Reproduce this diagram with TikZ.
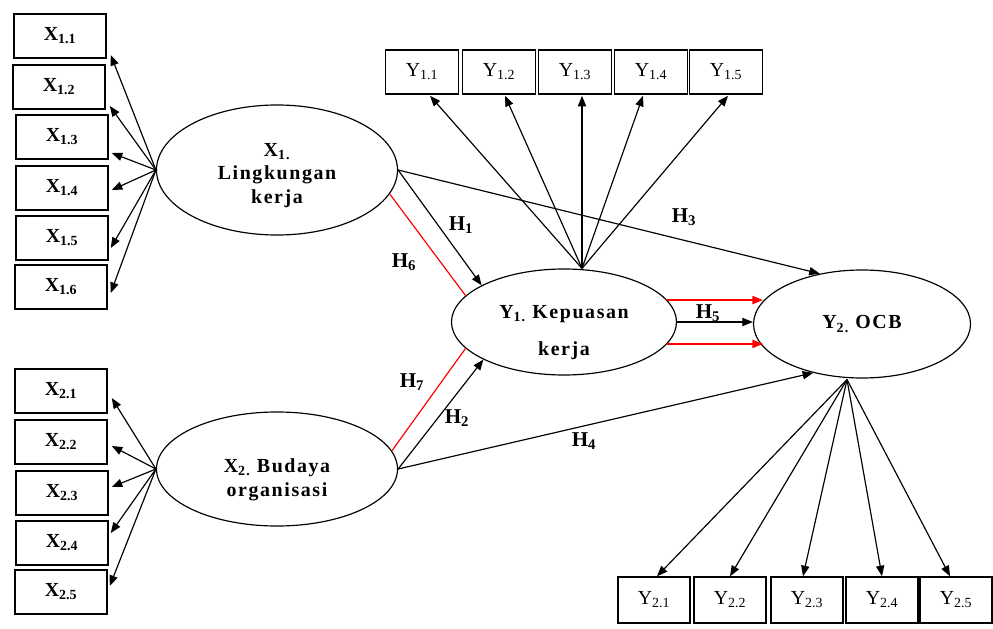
\documentclass[tikz,border=0pt]{standalone}
\usepackage{fontspec}
\setmainfont{Liberation Serif}
\newfontfamily\spacedserif[LetterSpace=8]{Liberation Serif}
\usetikzlibrary{calc,shapes.geometric,arrows.meta}

\tikzset{
	indbox/.style={draw, line width=1.3pt, minimum width=2.76cm, minimum height=1.32cm, inner sep=0pt, font=\fontsize{17}{20}\selectfont\bfseries},
	topbox/.style={draw, line width=1.3pt, minimum width=2.19cm, minimum height=1.32cm, inner sep=0pt, font=\fontsize{17}{20}\selectfont},
	botbox/.style={draw, line width=1.3pt, minimum width=2.16cm, minimum height=1.38cm, inner sep=0pt, font=\fontsize{17}{20}\selectfont},
	latent/.style={draw, ellipse, line width=1pt, inner sep=0pt, align=center, font=\fontsize{17}{20}\spacedserif\bfseries},
	arr/.style={line width=1pt, -{Triangle[length=9pt,width=7pt]}},
	redline/.style={line width=1pt, red},
	redarr/.style={line width=1.2pt, red, -{Triangle[length=9pt,width=7pt]}},
	hlab/.style={font=\fontsize{18}{20}\selectfont\bfseries}
}

\begin{document}
\begin{tikzpicture}[x=0.03cm, y=-0.03cm]
		%%%%% START %%%%%
		\useasboundingbox (0, 0) rectangle (993, 629);
		
		% latent variables
		\node[latent, minimum width=7.23cm, minimum height=3.9cm] (x1) at (277, 170) {\rule{0pt}{20pt}X\textsubscript{1.}\\Lingkungan\\kerja};
		\node[latent, minimum width=7.23cm, minimum height=3.42cm] (x2) at (277, 469) {\rule{0pt}{30pt}X\textsubscript{2.} Budaya\\organisasi};
		\node[latent, minimum width=6.75cm, minimum height=3.18cm, font=\fontsize{17}{31}\spacedserif\bfseries] (y1) at (564, 322) {\rule{0pt}{29pt}Y\textsubscript{1.} Kepuasan\\kerja};
		\node[latent, minimum width=6.51cm, minimum height=3.24cm] (y2) at (862, 324) {Y\textsubscript{2.} OCB};
		
		% indicators of X1
		\node[indbox] (x11) at (60, 36) {X\textsubscript{1.1}};
		\node[indbox] (x12) at (59, 87) {X\textsubscript{1.2}};
		\node[indbox] (x13) at (62, 137) {X\textsubscript{1.3}};
		\node[indbox] (x14) at (62, 188) {X\textsubscript{1.4}};
		\node[indbox] (x15) at (62, 238) {X\textsubscript{1.5}};
		\node[indbox] (x16) at (61, 287) {X\textsubscript{1.6}};
		
		% indicators of X2
		\node[indbox] (x21) at (61, 391) {X\textsubscript{2.1}};
		\node[indbox] (x22) at (61, 442) {X\textsubscript{2.2}};
		\node[indbox] (x23) at (62, 493) {X\textsubscript{2.3}};
		\node[indbox] (x24) at (62, 543) {X\textsubscript{2.4}};
		\node[indbox] (x25) at (61, 592) {X\textsubscript{2.5}};
		
		% indicators of Y1
		\node[topbox] (y11) at (422, 72) {Y\textsubscript{1.1}};
		\node[topbox] (y12) at (499, 72) {Y\textsubscript{1.2}};
		\node[topbox] (y13) at (575, 72) {Y\textsubscript{1.3}};
		\node[topbox] (y14) at (651, 72) {Y\textsubscript{1.4}};
		\node[topbox] (y15) at (726, 72) {Y\textsubscript{1.5}};
		
		% indicators of Y2
		\node[botbox] (y21) at (654, 600) {Y\textsubscript{2.1}};
		\node[botbox] (y22) at (730, 600) {Y\textsubscript{2.2}};
		\node[botbox] (y23) at (807, 600) {Y\textsubscript{2.3}};
		\node[botbox] (y24) at (882, 600) {Y\textsubscript{2.4}};
		\node[botbox] (y25) at (956, 600) {Y\textsubscript{2.5}};
		
		\coordinate (y1top) at ($(y1.north)+(18, 0)$);
		\coordinate (y2bot) at ($(y2.south)+(-15, 1)$);
		
		\draw[arr] (x1.west) -- ($(x11.east)+(4, 19)$);
		\draw[arr] (x1.west) -- ($(x12.east)+(4, 19)$);
		\draw[arr] (x1.west) -- ($(x13.east)+(3, 16)$);
		\draw[arr] (x1.west) -- ($(x14.east)+(3, 2)$);
		\draw[arr] (x1.west) -- ($(x15.east)+(2, 10)$);
		\draw[arr] (x1.west) -- ($(x16.east)+(3, 6)$);
		
		\draw[arr] (x2.west) -- ($(x21.east)+(4, 7)$);
		\draw[arr] (x2.west) -- ($(x22.east)+(4, 4)$);
		\draw[arr] (x2.west) -- ($(x23.east)+(3, -6)$);
		\draw[arr] (x2.west) -- ($(x24.east)+(2, -10)$);
		\draw[arr] (x2.west) -- ($(x25.east)+(2, -6)$);
		
		\draw[arr] (y1top) -- ($(y11.south)+(8, 1)$);
		\draw[arr] (y1top) -- ($(y12.south)+(6, 1)$);
		\draw[arr] (y1top) -- ($(y13.south)+(7, 1)$);
		\draw[arr] (y1top) -- ($(y14.south)+(-8, 1)$);
		\draw[arr] (y1top) -- ($(y15.south)+(2, 1)$);
		
		\draw[arr] (y2bot) -- ($(y21.north)+(3, 0)$);
		\draw[arr] (y2bot) -- (y22.north);
		\draw[arr] (y2bot) -- ($(y23.north)+(-4, 0)$);
		\draw[arr] (y2bot) -- (y24.north);
		\draw[arr] (y2bot) -- ($(y25.north)+(-6, 0)$);
		
		% structural paths
		\draw[arr] (x1.east) -- (y1.156);
		\draw[arr] (x1.east) -- (y2.130);
		\draw[arr] (x2.east) -- (y1.205);
		\draw[arr] (x2.east) -- (y2.225);
		\draw[arr] (y1.east) -- (y1.east -| y2.west);
		\draw[redline] (x1.-12) -- (y1.165);
		\draw[redline] (x2.9) -- (y1.195);
		\draw[redarr] (y1.12) -- (y1.12 -| y2.167);
		\draw[redarr] (y1.-12) -- (y1.-12 -| y2.-167);
		
		\node[hlab] (h1) at (461, 225) {H\textsubscript{1}};
		\node[hlab] (h2) at (457, 418) {H\textsubscript{2}};
		\node[hlab] (h3) at (684, 217) {H\textsubscript{3}};
		\node[hlab] (h4) at (584, 441) {H\textsubscript{4}};
		\node[hlab] (h5) at (708, 313) {H\textsubscript{5}};
		\node[hlab] (h6) at (404, 262) {H\textsubscript{6}};
		\node[hlab] (h7) at (412, 382) {H\textsubscript{7}};
		%%%%% END %%%%%
	\end{tikzpicture}
\end{document}
